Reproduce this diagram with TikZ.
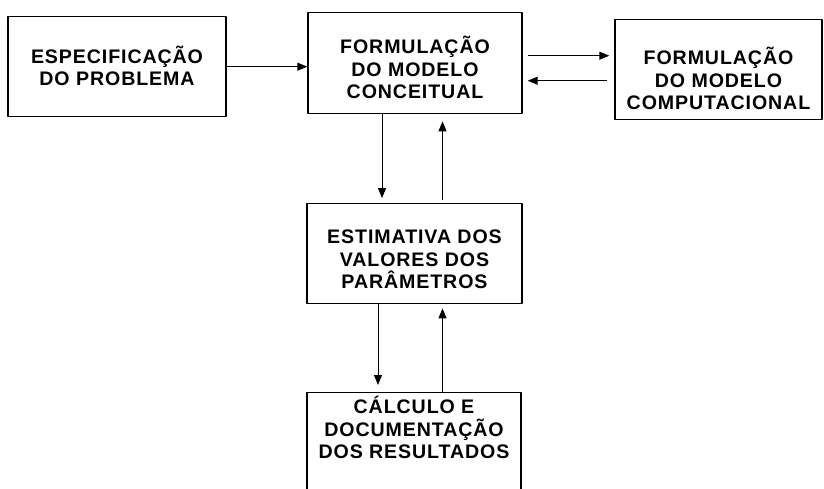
\documentclass[tikz,border=0pt]{standalone}
\usepackage{fontspec}
\setmainfont{Liberation Sans}
\newfontfamily\caixafamily[LetterSpace=4.6]{Liberation Sans}
\usepackage{tikz}
\usetikzlibrary{arrows.meta}

\begin{document}
\begin{tikzpicture}[x=0.5pt,y=-0.5pt,join=round, % caixas do modelo
        caixa/.style={draw,line width=0.7pt,align=center,inner sep=0pt,anchor=north,
                font=\caixafamily\bfseries\fontsize{9.8}{11.25}\selectfont},
        seta/.style={-{Triangle[length=5pt,width=4pt]},line width=0.5pt}]
        \useasboundingbox (0,0) rectangle (824,488);
        \clip (0,0) rectangle (824,488);
        \node[caixa,minimum width=109pt,text height=34.5pt,text depth=15.5pt] (espec) at (117,16) {ESPECIFICAÇÃO\\DO PROBLEMA};
        \node[caixa,minimum width=107pt,text height=43pt,text depth=7.5pt] (conceit) at (415,12) {FORMULAÇÃO\\DO MODELO\\CONCEITUAL};
        \node[caixa,minimum width=103.5pt,text height=45pt,text depth=5pt] (comput) at (718.5,19) {FORMULAÇÃO\\DO MODELO\\COMPUTACIONAL};
        \node[caixa,minimum width=107.5pt,text height=42.5pt,text depth=7.5pt] (estim) at (414.5,203) {ESTIMATIVA DOS\\VALORES DOS\\PARÂMETROS};
        \node[caixa,minimum width=107pt,text height=33pt,text depth=21pt] (calc) at (414,392) {CÁLCULO E\\DOCUMENTAÇÃO\\DOS RESULTADOS};
        % setas
        \draw[seta] (espec.east) -- (espec.east -| conceit.west);
        \coordinate (ida) at ([yshift=3.75pt]conceit.east);
        \coordinate (volta) at ([yshift=-8.75pt]conceit.east);
        \draw[seta,shorten <=2.5pt,shorten >=2.5pt] (ida) -- (ida -| comput.west);
        \draw[seta,shorten <=3.5pt,shorten >=2.5pt] (volta -| comput.west) -- (volta);
        \coordinate (desce1) at ([xshift=-16.5pt]conceit.south);
        \coordinate (sobe1) at ([xshift=14pt]estim.north);
        \draw[seta,shorten >=2.5pt] (desce1) -- (desce1 |- estim.north);
        \draw[seta,shorten <=1.5pt,shorten >=3.5pt] (sobe1) -- (sobe1 |- conceit.south);
        \coordinate (desce2) at ([xshift=-18.25pt]estim.south);
        \coordinate (sobe2) at ([xshift=14.25pt]calc.north);
        \draw[seta,shorten >=3.5pt] (desce2) -- (desce2 |- calc.north);
        \draw[seta,shorten >=2pt] (sobe2) -- (sobe2 |- estim.south);
\end{tikzpicture}
\end{document}
